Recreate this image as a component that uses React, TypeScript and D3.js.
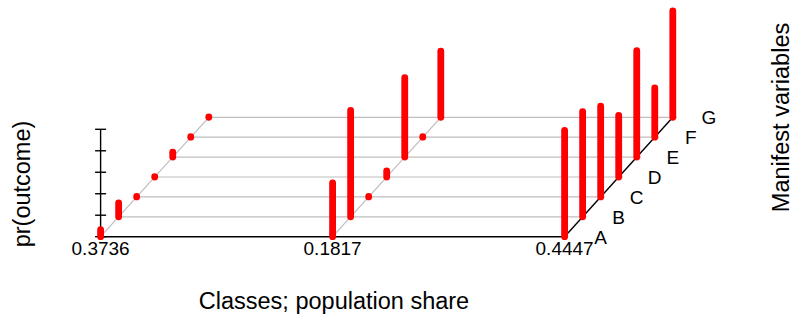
import React, { useEffect, useRef } from 'react';
import * as d3 from 'd3';

// class population shares (x axis labels)
const classShares = ['0.3736', '0.1817', '0.4447'];
// manifest variables (depth axis)
const manifestVars = ['A', 'B', 'C', 'D', 'E', 'F', 'G'];
// pr(outcome) per class, one value per manifest variable
const class1Probs = [0.065, 0.13, 0.004, 0.004, 0.045, 0.004, 0.004];
const class2Probs = [0.5, 0.99, 0.004, 0.056, 0.74, 0.004, 0.615];
const class3Probs = [0.99, 0.98, 0.845, 0.574, 0.99, 0.46, 0.99];
const zTicks = [0, 0.2, 0.4, 0.6, 0.8, 1];

const probs = [class1Probs, class2Probs, class3Probs];

const App = () => {
  const svgRef = useRef(null);
  const width = 794;
  const height = 316;

  useEffect(() => {
    const svg = d3.select(svgRef.current);
    svg.selectAll('*').remove();

    const font = 'Liberation Sans, Arial, Helvetica, sans-serif';
    const x = d3.scalePoint().domain(classShares).range([100.6, 564.6]);
    const depthX = d3.scaleLinear().domain([0, 6]).range([0, 108.2]);
    const depthY = d3.scaleLinear().domain([0, 6]).range([236.7, 117.3]);
    const z = d3.scaleLinear().domain([0, 1]).range([0, 107.4]);

    const px = (c, v) => x(c) + depthX(v);

    // gray grid: horizontal lines per variable level
    const x0 = classShares[0];
    const xLast = classShares[classShares.length - 1];
    manifestVars.forEach((m, i) => {
      if (i === 0) return;
      svg.append('line')
        .attr('x1', px(x0, i)).attr('x2', px(xLast, i))
        .attr('y1', depthY(i)).attr('y2', depthY(i))
        .attr('stroke', '#bebebe').attr('stroke-width', 1.2);
    });
    // gray diagonals for first classes
    classShares.slice(0, -1).forEach(c => {
      svg.append('line')
        .attr('x1', px(c, 0)).attr('x2', px(c, 6))
        .attr('y1', depthY(0)).attr('y2', depthY(6))
        .attr('stroke', '#bebebe').attr('stroke-width', 1.2);
    });

    // black axes
    svg.append('line')
      .attr('x1', px(x0, 0)).attr('x2', px(xLast, 0))
      .attr('y1', depthY(0)).attr('y2', depthY(0))
      .attr('stroke', '#000').attr('stroke-width', 1.4);
    svg.append('line')
      .attr('x1', px(xLast, 0)).attr('x2', px(xLast, 6))
      .attr('y1', depthY(0)).attr('y2', depthY(6))
      .attr('stroke', '#000').attr('stroke-width', 1.4);
    svg.append('line')
      .attr('x1', px(x0, 0)).attr('x2', px(x0, 0))
      .attr('y1', depthY(0)).attr('y2', depthY(0) - z(1))
      .attr('stroke', '#000').attr('stroke-width', 1.4);

    // z ticks
    zTicks.forEach(t => {
      svg.append('line')
        .attr('x1', px(x0, 0) - 5.5).attr('x2', px(x0, 0) + 5.5)
        .attr('y1', depthY(0) - z(t)).attr('y2', depthY(0) - z(t))
        .attr('stroke', '#000').attr('stroke-width', 1.4);
    });

    // depth ticks + labels
    manifestVars.forEach((m, i) => {
      svg.append('line')
        .attr('x1', px(xLast, i) - 1.5).attr('x2', px(xLast, i) + 3.5)
        .attr('y1', depthY(i)).attr('y2', depthY(i))
        .attr('stroke', '#000').attr('stroke-width', 1.2);
      svg.append('text')
        .attr('x', px(xLast, i) + 36)
        .attr('y', depthY(i) + 6.8)
        .attr('text-anchor', 'middle')
        .style('font-family', font)
        .style('font-size', '19px')
        .text(m);
    });

    // class labels
    classShares.forEach(c => {
      svg.append('text')
        .attr('x', x(c))
        .attr('y', 254.5)
        .attr('text-anchor', 'middle')
        .style('font-family', font)
        .style('font-size', '19px')
        .text(c);
    });

    // red bars
    probs.forEach((ps, ci) => {
      const c = classShares[ci];
      ps.forEach((p, i) => {
        svg.append('line')
          .attr('x1', px(c, i)).attr('x2', px(c, i))
          .attr('y1', depthY(i)).attr('y2', depthY(i) - z(p))
          .attr('stroke', '#ff0000')
          .attr('stroke-width', 6.8)
          .attr('stroke-linecap', 'round');
      });
    });

    // axis titles
    svg.append('text')
      .attr('x', 334).attr('y', 309)
      .attr('text-anchor', 'middle')
      .style('font-family', font)
      .style('font-size', '23.5px')
      .text('Classes; population share');
    svg.append('text')
      .attr('transform', 'translate(30,184) rotate(-90)')
      .attr('text-anchor', 'middle')
      .style('font-family', font)
      .style('font-size', '23.5px')
      .text('pr(outcome)');
    svg.append('text')
      .attr('transform', 'translate(789,117.5) rotate(-90)')
      .attr('text-anchor', 'middle')
      .style('font-family', font)
      .style('font-size', '23.5px')
      .text('Manifest variables');
  }, []);

  return (
    <div style={{ position: 'absolute', left: 0, top: 0 }}>
      <svg ref={svgRef} width={width} height={height} style={{ display: 'block', background: '#fff' }} />
    </div>
  );
};

export default App;
